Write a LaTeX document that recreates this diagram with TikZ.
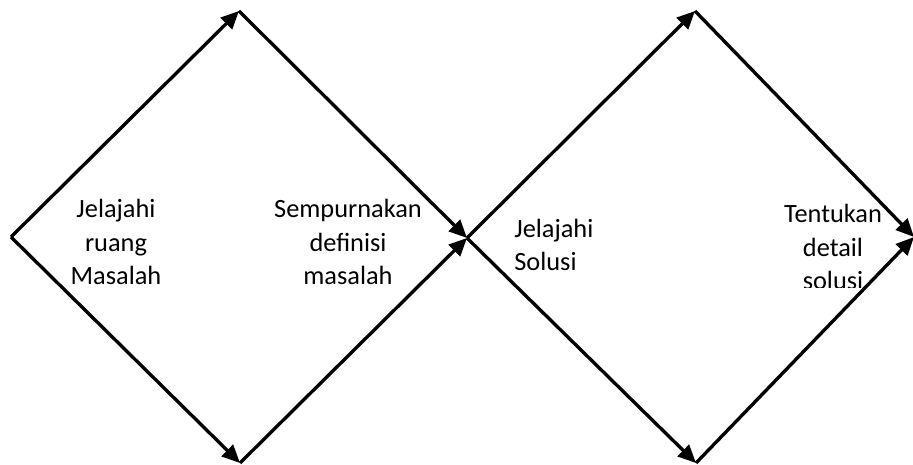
\documentclass[tikz,border=0pt]{standalone}
\usepackage{fontspec}
\setmainfont{Carlito}
\usetikzlibrary{arrows.meta}

\begin{document}
\begin{tikzpicture}[x=0.02cm, y=-0.02cm,
    every node/.style={font=\fontsize{15}{19.2}\selectfont, inner sep=0pt},
    flow/.style={line width=1.9pt, -{Triangle[length=0.36cm, width=0.32cm]}}]
  \useasboundingbox (0,0) rectangle (913,465);

  % ---- Sudut-sudut berlian ----
  \coordinate (mulai)   at (11,237);
  \coordinate (atasA)   at (239,11);
  \coordinate (bawahA)  at (240,463);
  \coordinate (tengah)  at (467,238);
  \coordinate (atasB)   at (695,11);
  \coordinate (bawahB)  at (696,463);
  \coordinate (selesai) at (914,237);

  % ---- Berlian pertama: ruang masalah ----
  \draw[flow] (mulai) -- (atasA);
  \draw[flow] (mulai) -- (bawahA);
  \draw[flow] (atasA) -- (tengah);
  \draw[flow] (bawahA) -- (tengah);

  % ---- Berlian kedua: ruang solusi ----
  \draw[flow] (tengah) -- (atasB);
  \draw[flow] (tengah) -- (bawahB);
  \draw[flow] (atasB) -- (selesai);
  \draw[flow] (bawahB) -- (selesai);

  % Teks
  \node[align=center] (jelajahMasalah) at (116,242) {Jelajahi\\ruang\\Masalah};
  \node[align=center] (sempurnakan) at (348,242) {Sempurnakan\\definisi\\masalah};
  \node[align=left, anchor=west] (jelajahSolusi) at (514,245) {Jelajahi\\Solusi};
  \begin{scope}
    \clip (0,0) rectangle (913,288);
    \node[align=center] (tentukan) at (833,247) {Tentukan\\detail\\solusi};
  \end{scope}
\end{tikzpicture}
\end{document}
